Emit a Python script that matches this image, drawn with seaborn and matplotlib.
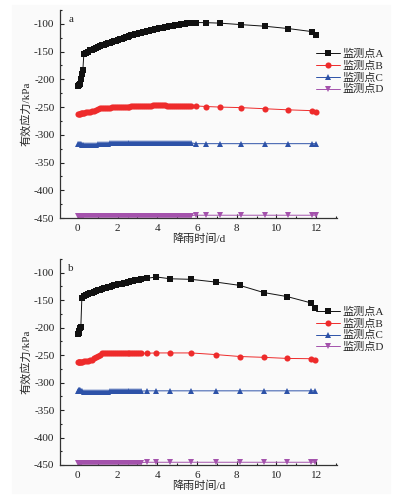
import numpy as np
import pandas as pd
import matplotlib.pyplot as plt
import matplotlib.patches as mpatches
from matplotlib.lines import Line2D
from matplotlib.ticker import MultipleLocator
import seaborn as sns

# ---- data (time in days, stress in kPa) ----
# panel a
t_a = [0, 0.05, 0.1, 0.15, 0.2, 0.25,
       0.3, 0.4, 0.5, 0.6, 0.7, 0.8, 0.9, 1.0, 1.1, 1.2, 1.3, 1.4, 1.5, 1.6, 1.7,
       1.8, 1.9, 2.0, 2.1, 2.2, 2.3, 2.4, 2.5, 2.6, 2.7, 2.8, 2.9, 3.0, 3.1, 3.2,
       3.3, 3.4, 3.5, 3.6, 3.7, 3.8, 3.9, 4.0, 4.1, 4.2, 4.3, 4.4, 4.5, 4.6, 4.7,
       4.8, 4.9, 5.0, 5.1, 5.2, 5.3, 5.4, 5.5, 5.6, 5.7,
       5.95, 6.45, 7.15, 8.2, 9.4, 10.6, 11.8, 12.0]
A_a = [-212, -211, -208, -200, -191, -184,
       -155, -152, -150, -148, -146.5, -145, -143.5, -142, -140.5, -139, -137.5,
       -136.5, -135, -133.8, -132.5, -131.3, -130, -128.8, -127.6, -126.5, -125.3,
       -124.2, -123, -121.9, -120.8, -119.7, -118.6, -117.5, -116.6, -115.7, -114.8,
       -114, -113.1, -112.3, -111.5, -110.7, -109.9, -109.1, -108.3, -107.6, -106.8,
       -106.1, -105.4, -104.7, -104, -103.3, -102.7, -102.1, -101.5, -100.9, -100.3,
       -99.7, -99.1, -98.6, -98.1,
       -97.6, -97.8, -98.7, -101.3, -104.2, -108.5, -114, -120]
B_a = [-263, -262.5, -262, -261.5, -261, -260.5,
       -260, -259.5, -258.5, -258, -257, -256.5, -255.5, -253.5, -252.5, -252, -251.5,
       -251.5, -251, -251, -250.5, -250.5, -250, -250, -249.5, -249.5, -249.5, -249,
       -249, -249, -248.5, -248.5, -248.5, -248, -248, -248, -248, -247.5, -247.5,
       -247.5, -247.5, -247, -247, -247, -247, -247, -247, -247, -247.5, -247.5,
       -247.5, -247.5, -247.5, -247.5, -248, -248, -248, -248, -248, -248, -248,
       -248, -249, -250, -251, -253, -255, -256.5, -259]
C_a = [-316, -316.5, -317, -317, -317.5, -318,
       -318, -318.5, -319, -318.5, -318, -318, -317.5, -317, -317, -316.5, -316.5,
       -316, -316, -315.5, -315.5, -315.5, -315.5, -315.5, -315, -315, -315, -315,
       -315, -315, -314.5, -314.5, -314.5, -314.5, -314.5, -314.5, -314.5, -314.5,
       -314.5, -314.5, -314.5, -314.5, -314.5, -314.5, -314.5, -314.5, -314.5,
       -314.5, -314.5, -314.5, -314.5, -314.5, -314.5, -314.5, -314.5, -314.5,
       -314.5, -314.5, -314.5, -314.5, -314.5,
       -316, -316, -316, -316, -316, -316, -316, -316]
D_a = [-445.5] * 61 + [-445, -445, -445, -445, -445, -445, -445, -445]

# panel b
t_b = [0, 0.04, 0.08, 0.12, 0.15,
       0.2, 0.3, 0.4, 0.5, 0.6, 0.7, 0.8, 0.9, 1.0, 1.1, 1.2, 1.3, 1.4, 1.5, 1.6,
       1.7, 1.8, 1.9, 2.0, 2.1, 2.2, 2.3, 2.4, 2.5, 2.6, 2.7, 2.8, 2.9, 3.0, 3.1, 3.2,
       3.5, 3.95, 4.65, 5.7, 6.95, 8.15, 9.35, 10.55, 11.75, 11.95]
A_b = [-212, -210, -206, -200, -198,
       -146, -143, -141, -139, -137.5, -136, -134.5, -133, -132, -130.7, -129.5,
       -128.4, -127.3, -126.2, -125.2, -124.2, -123.2, -122.3, -121.4, -120.5,
       -119.6, -118.8, -118, -117.2, -116.4, -115.6, -114.8, -114.1, -113.4, -112.7,
       -112,
       -110, -107.7, -111, -112, -117, -123, -136, -143.5, -155, -164]
B_b = [-263, -263, -262.5, -262.5, -262,
       -262, -261.5, -261, -260, -259, -258, -256, -254, -251.5, -249, -247, -246.5,
       -246.5, -246.5, -246.5, -246.5, -246.5, -246.5, -246.5, -246.5, -246.5,
       -246.5, -246.5, -246.5, -246.5, -246.5, -246.5, -246.5, -246.5, -246.5,
       -246.5,
       -246.5, -246, -246, -246, -249, -252.5, -254, -256, -256.5, -259]
C_b = [-316, -314, -313, -314, -315,
       -316, -317, -318, -318, -318, -317.5, -317.5, -317, -317, -316.5, -316.5,
       -316.5, -316.5, -316.5, -316, -316, -316, -316, -316, -316, -316, -315.5,
       -315.5, -315.5, -315.5, -315.5, -315.5, -315.5, -315.5, -315.5, -315.5,
       -315, -315, -315, -315, -315, -315, -315, -315, -315, -315]
D_b = [-445.5] * 36 + [-445] * 10

points = ['监测点A', '监测点B', '监测点C', '监测点D']
colors = ['#111111', '#ee2b2b', '#2d52a8', '#a452ac']
markers = ['s', 'o', '^', 'v']
msizes = [4.2, 4.4, 4.8, 4.8]

sns.set_theme(style='ticks')
plt.rcParams['font.family'] = ['Liberation Serif', 'Noto Sans CJK SC']
plt.rcParams['axes.unicode_minus'] = False

fig = plt.figure(figsize=(3.98, 4.98), dpi=100)
fig.patch.set_facecolor('white')
fig.patches.append(mpatches.Rectangle((12 / 398, 5 / 498), 378 / 398, 488 / 498,
                                      transform=fig.transFigure, color='#fafafa',
                                      zorder=-10))

ax_a = fig.add_axes([60 / 398, 1 - 218 / 498, 277 / 398, 208 / 498])
ax_b = fig.add_axes([60 / 398, 1 - 465 / 498, 277 / 398, 206 / 498])

panels = [(ax_a, 'a', t_a, [A_a, B_a, C_a, D_a], 0.815),
          (ax_b, 'b', t_b, [A_b, B_b, C_b, D_b], 0.77)]

for ax, tag, t, series, leg_y in panels:
    ax.set_facecolor('none')
    frames = []
    for name, vals in zip(points, series):
        frames.append(pd.DataFrame({'t': t, 'v': vals, 'point': name}))
    df = pd.concat(frames, ignore_index=True)

    for name, c, m, ms in zip(points, colors, markers, msizes):
        sns.lineplot(data=df[df['point'] == name], x='t', y='v', ax=ax,
                     color=c, marker=m, markersize=ms, markeredgewidth=0,
                     linewidth=0.7, estimator=None, sort=False, legend=False,
                     clip_on=True)

    ax.set_xlim(-0.9, 13.05)
    ax.set_ylim(-450, -75)
    ax.xaxis.set_major_locator(MultipleLocator(2))
    ax.xaxis.set_minor_locator(MultipleLocator(1))
    ax.yaxis.set_major_locator(MultipleLocator(50))
    ax.yaxis.set_minor_locator(MultipleLocator(25))
    ax.set_yticks([-450, -400, -350, -300, -250, -200, -150, -100])
    ax.set_xticks([0, 2, 4, 6, 8, 10, 12])
    ax.tick_params(which='both', direction='in', labelsize=8, colors='#222222',
                   width=0.8)
    ax.tick_params(which='major', length=3, pad=4)
    ax.tick_params(which='minor', length=1.5)
    sns.despine(ax=ax)
    for s in ['left', 'bottom']:
        ax.spines[s].set_linewidth(0.9)
        ax.spines[s].set_color('#333333')

    ax.set_xlabel('降雨时间/d', fontsize=8, labelpad=1)
    ax.set_ylabel('有效应力/kPa', fontsize=8, labelpad=2)
    ax.text(0.03, 0.975, tag, transform=ax.transAxes, fontsize=8,
            va='top', ha='left')

    handles = [Line2D([], [], color=c, marker=m, markersize=ms,
                      markeredgewidth=0, linewidth=0.7)
               for c, m, ms in zip(colors, markers, msizes)]
    ax.legend(handles, points, loc='upper left', bbox_to_anchor=(0.925, leg_y),
              frameon=False, fontsize=8, handlelength=2.1, handletextpad=0.25,
              labelspacing=0.15, borderpad=0, borderaxespad=0)

fig.savefig('out.png', dpi=100)
